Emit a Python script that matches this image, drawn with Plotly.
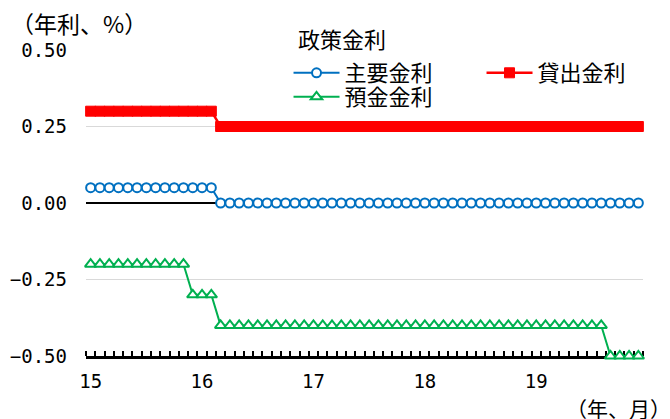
import plotly.graph_objects as go

years = ["15", "16", "17", "18", "19"]
months = [f"{y}/{m}" for y in years for m in range(1, 13)]

# ECB policy rates, month-end values (%), Jan 2015 - Dec 2019
main_rate = [
    0.05, 0.05, 0.05, 0.05, 0.05, 0.05, 0.05, 0.05, 0.05, 0.05, 0.05, 0.05,
    0.05, 0.05, 0.00, 0.00, 0.00, 0.00, 0.00, 0.00, 0.00, 0.00, 0.00, 0.00,
    0.00, 0.00, 0.00, 0.00, 0.00, 0.00, 0.00, 0.00, 0.00, 0.00, 0.00, 0.00,
    0.00, 0.00, 0.00, 0.00, 0.00, 0.00, 0.00, 0.00, 0.00, 0.00, 0.00, 0.00,
    0.00, 0.00, 0.00, 0.00, 0.00, 0.00, 0.00, 0.00, 0.00, 0.00, 0.00, 0.00,
]
lending_rate = [
    0.30, 0.30, 0.30, 0.30, 0.30, 0.30, 0.30, 0.30, 0.30, 0.30, 0.30, 0.30,
    0.30, 0.30, 0.25, 0.25, 0.25, 0.25, 0.25, 0.25, 0.25, 0.25, 0.25, 0.25,
    0.25, 0.25, 0.25, 0.25, 0.25, 0.25, 0.25, 0.25, 0.25, 0.25, 0.25, 0.25,
    0.25, 0.25, 0.25, 0.25, 0.25, 0.25, 0.25, 0.25, 0.25, 0.25, 0.25, 0.25,
    0.25, 0.25, 0.25, 0.25, 0.25, 0.25, 0.25, 0.25, 0.25, 0.25, 0.25, 0.25,
]
deposit_rate = [
    -0.20, -0.20, -0.20, -0.20, -0.20, -0.20, -0.20, -0.20, -0.20, -0.20, -0.20, -0.30,
    -0.30, -0.30, -0.40, -0.40, -0.40, -0.40, -0.40, -0.40, -0.40, -0.40, -0.40, -0.40,
    -0.40, -0.40, -0.40, -0.40, -0.40, -0.40, -0.40, -0.40, -0.40, -0.40, -0.40, -0.40,
    -0.40, -0.40, -0.40, -0.40, -0.40, -0.40, -0.40, -0.40, -0.40, -0.40, -0.40, -0.40,
    -0.40, -0.40, -0.40, -0.40, -0.40, -0.40, -0.40, -0.40, -0.50, -0.50, -0.50, -0.50,
]
y_ticks = [0.50, 0.25, 0.00, -0.25, -0.50]
y_ticktext = ["0.50", "0.25", "0.00", "−0.25", "−0.50"]

x = list(range(len(months)))
year_pos = [months.index(f"{y}/1") for y in years]
year_bounds = [p - 0.5 for p in year_pos] + [len(months) - 0.5]
xrange = [-0.5, len(months) - 0.5]

FONT = "Noto Sans CJK JP"
TICK_FONT = "DejaVu Sans Mono"
BLUE = "#0070C0"
RED = "#FF0000"
GREEN = "#00B050"

fig = go.Figure()
fig.add_trace(go.Scatter(
    x=x, y=lending_rate, name="貸出金利", mode="lines+markers",
    line=dict(color=RED, width=2.5),
    marker=dict(symbol="square", size=10, color=RED, line=dict(color=RED, width=1)),
    cliponaxis=False, legend="legend",
))
fig.add_trace(go.Scatter(
    x=x, y=main_rate, name="主要金利", mode="lines+markers",
    line=dict(color=BLUE, width=2),
    marker=dict(symbol="circle", size=9, color="white", line=dict(color=BLUE, width=2)),
    cliponaxis=False, legend="legend",
))
fig.add_trace(go.Scatter(
    x=x, y=deposit_rate, name="預金金利", mode="lines+markers",
    line=dict(color=GREEN, width=2),
    marker=dict(symbol="triangle-up", size=10, color="white", line=dict(color=GREEN, width=2)),
    cliponaxis=False, legend="legend2",
))

LEG_X = 0.3636

fig.update_layout(
    width=670, height=419,
    margin=dict(l=86, r=27, t=50, b=63, autoexpand=False),
    paper_bgcolor="white", plot_bgcolor="white",
    font=dict(family=FONT, color="black", size=20),
    showlegend=True,
    xaxis=dict(
        range=xrange, tickmode="array", tickvals=year_pos, ticktext=years,
        ticks="", showgrid=False, zeroline=False,
        showline=True, linecolor="black", linewidth=2.5, layer="below traces",
        minor=dict(ticks="inside", tick0=-0.5, dtick=1, ticklen=5, tickwidth=2,
                   tickcolor="black", showgrid=False),
        ticklabelstandoff=6,
        tickfont=dict(family=TICK_FONT, size=19),
    ),
    xaxis2=dict(
        range=xrange, overlaying="x", anchor="y", side="bottom",
        tickmode="array", tickvals=year_bounds, ticks="inside", ticklen=8,
        tickwidth=2, tickcolor="black", showticklabels=False,
        showgrid=False, zeroline=False, showline=False, layer="below traces",
    ),
    yaxis=dict(
        range=[-0.5, 0.5], tickmode="array", tickvals=y_ticks, ticktext=y_ticktext,
        showgrid=True, gridcolor="#D9D9D9", gridwidth=1,
        zeroline=True, zerolinecolor="black", zerolinewidth=2,
        showline=False, ticks="", ticklabelstandoff=18,
        tickfont=dict(family=TICK_FONT, size=19),
    ),
    legend=dict(
        orientation="h", x=LEG_X, xanchor="left", y=(356 - 73) / 306, yanchor="middle",
        entrywidth=132, itemwidth=46, bgcolor="rgba(0,0,0,0)", font=dict(size=22),
        traceorder="reversed",
    ),
    legend2=dict(
        orientation="h", x=LEG_X, xanchor="left", y=(356 - 97) / 306, yanchor="middle",
        itemwidth=46, bgcolor="rgba(0,0,0,0)", font=dict(size=22),
    ),
    annotations=[
        dict(text="政策金利", xref="paper", yref="paper", x=(296 - 86) / 557, y=(356 - 38) / 306,
             xanchor="left", yanchor="middle", showarrow=False, font=dict(size=22)),
        dict(text="（年利、%）", xref="paper", yref="paper", x=-0.138, y=1.088,
             xanchor="left", yanchor="middle", showarrow=False, font=dict(size=23)),
        dict(text="（年、月）", xref="paper", yref="paper", x=(564 - 86) / 557, y=(356 - 408) / 306,
             xanchor="left", yanchor="middle", showarrow=False, font=dict(size=21)),
        dict(text="（年、月）", xref="paper", yref="paper", x=(584 - 86) / 557, y=(356 + 4) / 306,
             xanchor="left", yanchor="bottom", showarrow=False, font=dict(size=21)),
    ],
)

fig.write_html("out.html")
